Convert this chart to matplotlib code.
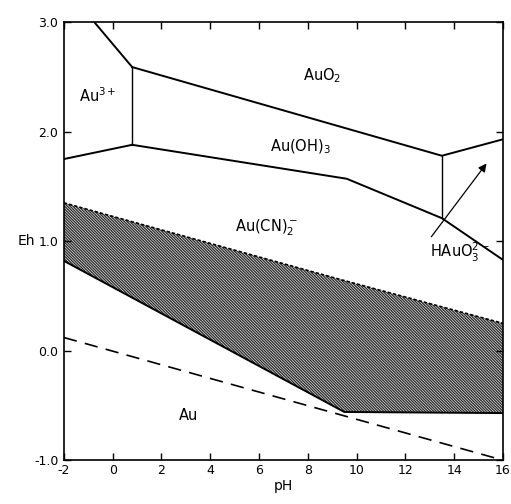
import matplotlib
matplotlib.use("Agg")
import matplotlib.pyplot as plt

# stability field boundaries (pH, Eh)
au3_top_ph = [-0.75, 0.8]
au3_top_eh = [3.0, 2.59]
au3_low_ph = [-2.0, 0.8]
au3_low_eh = [1.75, 1.88]
auo2_ph = [0.8, 13.5, 16.0]
auo2_eh = [2.59, 1.78, 1.93]
auoh3_ph = [0.8, 9.6, 13.5, 16.0]
auoh3_eh = [1.88, 1.57, 1.21, 0.83]
vert1_ph = [0.8, 0.8]
vert1_eh = [2.59, 1.88]
vert2_ph = [13.5, 13.5]
vert2_eh = [1.78, 1.21]

# Au(CN)2- hatched band
cn_ph = [-2.0, 9.5, 16.0]
cn_upper = [1.35, 0.64, 0.25]
cn_lower = [0.82, -0.56, -0.57]

# water (hydrogen) line
h2_ph = [-2.0, 16.0]
h2_eh = [0.12, -1.0]

xticks = [-2, 0, 2, 4, 6, 8, 10, 12, 14, 16]
xticklabels = ["-2", "0", "2", "4", "6", "8", "10", "12", "14", "16"]
yticks = [-1.0, 0.0, 1.0, 2.0, 3.0]
yticklabels = ["-1.0", "0.0", "1.0", "2.0", "3.0"]

plt.rcParams["hatch.linewidth"] = 1.0
plt.rcParams["hatch.color"] = "#303030"

fig = plt.figure(figsize=(5.11, 5.04), dpi=100)
ax = fig.add_axes([0.125, 0.087, 0.859, 0.869])

lw = 1.4
ax.plot(au3_top_ph, au3_top_eh, color="black", lw=lw)
ax.plot(au3_low_ph, au3_low_eh, color="black", lw=lw)
ax.plot(auo2_ph, auo2_eh, color="black", lw=lw)
ax.plot(auoh3_ph, auoh3_eh, color="black", lw=lw)
ax.plot(vert1_ph, vert1_eh, color="black", lw=1.0)
ax.plot(vert2_ph, vert2_eh, color="black", lw=1.0)

ax.fill_between(cn_ph, cn_lower, cn_upper, facecolor="white",
                edgecolor="#303030", hatch="\\" * 12, linewidth=0)
ax.plot(cn_ph, cn_upper, color="black", lw=1.2, ls=(0, (2, 1.2)))
ax.plot(cn_ph, cn_lower, color="black", lw=1.4)

ax.plot(h2_ph, h2_eh, color="black", lw=1.2, ls=(0, (8, 5)))

# arrow pointing the HAuO3 2- label up into its field
ax.annotate("", xy=(15.4, 1.73), xytext=(13.0, 1.02),
            arrowprops=dict(arrowstyle="-|>", color="black", lw=0.9,
                            mutation_scale=12))

fs = 10.5
ax.text(-0.6, 2.33, "Au$^{3+}$", fontsize=fs, ha="center", va="center")
ax.text(8.6, 2.51, "AuO$_2$", fontsize=fs, ha="center", va="center")
ax.text(7.7, 1.86, "Au(OH)$_3$", fontsize=fs, ha="center", va="center")
ax.text(6.3, 1.12, "Au(CN)$_2^-$", fontsize=fs, ha="center", va="center")
ax.text(3.1, -0.59, "Au", fontsize=fs, ha="center", va="center")
ax.text(14.25, 0.9, "HAuO$_3^{2-}$", fontsize=fs, ha="center", va="center")

ax.set_xlim(-2, 16)
ax.set_ylim(-1, 3)
ax.set_xticks(xticks)
ax.set_xticklabels(xticklabels, fontsize=9)
ax.set_yticks(yticks)
ax.set_yticklabels(yticklabels, fontsize=9)
ax.tick_params(direction="in", top=True, right=True, length=5, width=1)
ax.tick_params(axis="x", pad=3)
ax.tick_params(axis="y", pad=4)
ax.set_xlabel("pH", fontsize=10, labelpad=1)
ax.set_ylabel("Eh", fontsize=10, rotation=0, va="center")
ax.yaxis.set_label_coords(-0.085, 0.5)
for s in ax.spines.values():
    s.set_linewidth(1.2)

fig.savefig("out.png", dpi=100)
